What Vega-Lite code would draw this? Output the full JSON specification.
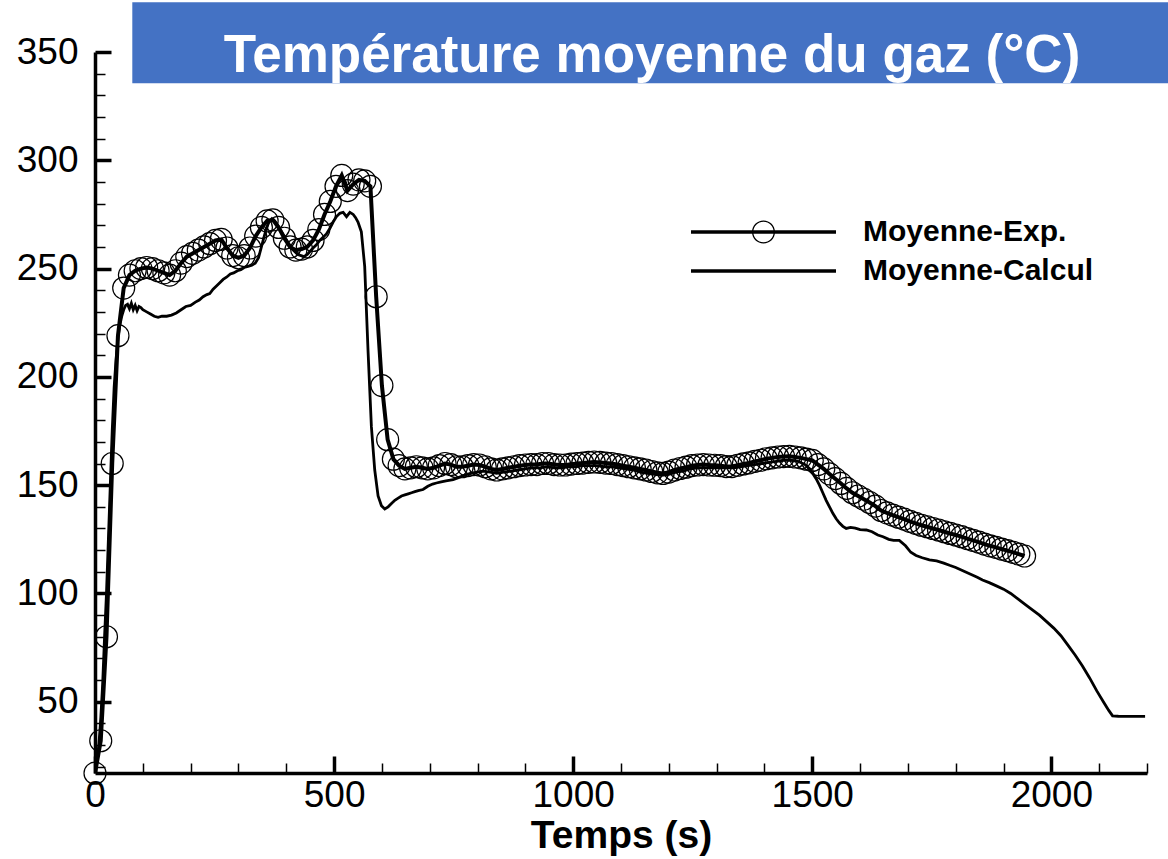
{
  "$schema": "https://vega.github.io/schema/vega-lite/v6.json",
  "width": 1052,
  "height": 721,
  "autosize": {"type": "none"},
  "padding": {"left": 95, "top": 52, "right": 21, "bottom": 86},
  "background": "white",
  "config": {"view": {"stroke": null}, "font": "Liberation Sans"},
  "title": {
    "text": "Température moyenne du gaz (°C)",
    "color": "white",
    "fontSize": 53,
    "fontWeight": "bold",
    "font": "Liberation Sans",
    "anchor": "middle",
    "frame": "group",
    "baseline": "alphabetic",
    "dx": 31,
    "offset": -123,
    "zindex": 2
  },
  "datasets": {
    "exp": [
      {"t":0,"v":17},{"t":12,"v":32},{"t":24,"v":80},{"t":36,"v":160},{"t":48,"v":219},{"t":60,"v":241},{"t":72,"v":247},{"t":84,"v":249},{"t":96,"v":250},{"t":108,"v":250.5},{"t":120,"v":250},{"t":132,"v":249},{"t":144,"v":248},{"t":156,"v":247},{"t":168,"v":249},{"t":180,"v":252.5},{"t":192,"v":255.5},{"t":204,"v":257},{"t":216,"v":258.5},{"t":228,"v":260},{"t":240,"v":261.5},{"t":252,"v":263},{"t":264,"v":263.5},{"t":276,"v":259.5},{"t":288,"v":256},{"t":300,"v":255},{"t":312,"v":256},{"t":324,"v":259.5},{"t":336,"v":265},{"t":348,"v":269},{"t":360,"v":272},{"t":372,"v":272.5},{"t":384,"v":269},{"t":396,"v":264},{"t":408,"v":260},{"t":420,"v":258.5},{"t":432,"v":259},{"t":444,"v":260},{"t":456,"v":263},{"t":468,"v":268},{"t":480,"v":275},{"t":492,"v":281},{"t":504,"v":288},{"t":516,"v":293},{"t":528,"v":286},{"t":540,"v":289},{"t":552,"v":291},{"t":564,"v":290.5},{"t":576,"v":288},{"t":588,"v":237},{"t":600,"v":196},{"t":612,"v":171},{"t":624,"v":162},{"t":636,"v":159},{"t":648,"v":157.5},{"t":660,"v":158},{"t":672,"v":158.5},{"t":684,"v":158},{"t":696,"v":157.5},{"t":708,"v":158},{"t":720,"v":159},{"t":732,"v":160},{"t":744,"v":159.5},{"t":756,"v":158.5},{"t":768,"v":158.5},{"t":780,"v":159},{"t":792,"v":159.5},{"t":804,"v":159.3},{"t":816,"v":158.5},{"t":828,"v":157.5},{"t":840,"v":157},{"t":852,"v":157.5},{"t":864,"v":158},{"t":876,"v":158.5},{"t":888,"v":159},{"t":900,"v":159.3},{"t":912,"v":159.5},{"t":924,"v":159.5},{"t":936,"v":160},{"t":948,"v":160},{"t":960,"v":159.5},{"t":972,"v":159.3},{"t":984,"v":159.3},{"t":996,"v":159.7},{"t":1008,"v":160},{"t":1020,"v":160.2},{"t":1032,"v":160.5},{"t":1044,"v":160.7},{"t":1056,"v":160.5},{"t":1068,"v":160.2},{"t":1080,"v":160},{"t":1092,"v":159.5},{"t":1104,"v":159},{"t":1116,"v":158.5},{"t":1128,"v":158},{"t":1140,"v":157.5},{"t":1152,"v":157},{"t":1164,"v":156.3},{"t":1176,"v":155.7},{"t":1188,"v":155.4},{"t":1200,"v":156},{"t":1212,"v":157},{"t":1224,"v":157.7},{"t":1236,"v":158.3},{"t":1248,"v":159},{"t":1260,"v":159.3},{"t":1272,"v":159.5},{"t":1284,"v":159.3},{"t":1296,"v":159.2},{"t":1308,"v":159},{"t":1320,"v":158.6},{"t":1332,"v":158.6},{"t":1344,"v":159.2},{"t":1356,"v":159.8},{"t":1368,"v":160.3},{"t":1380,"v":161},{"t":1392,"v":161.5},{"t":1404,"v":162.2},{"t":1416,"v":162.6},{"t":1428,"v":163},{"t":1440,"v":163.2},{"t":1452,"v":163.3},{"t":1464,"v":163},{"t":1476,"v":162.6},{"t":1488,"v":162},{"t":1500,"v":161.4},{"t":1512,"v":159.5},{"t":1524,"v":157.5},{"t":1536,"v":155.2},{"t":1548,"v":153},{"t":1560,"v":150.8},{"t":1572,"v":148.5},{"t":1584,"v":146.5},{"t":1596,"v":145},{"t":1608,"v":143.5},{"t":1620,"v":142},{"t":1632,"v":140.3},{"t":1644,"v":138.3},{"t":1656,"v":137.2},{"t":1668,"v":136.2},{"t":1680,"v":135.2},{"t":1692,"v":134.3},{"t":1704,"v":133.3},{"t":1716,"v":132.4},{"t":1728,"v":131.5},{"t":1740,"v":130.8},{"t":1752,"v":130},{"t":1764,"v":129.3},{"t":1776,"v":128.5},{"t":1788,"v":127.7},{"t":1800,"v":127},{"t":1812,"v":126.2},{"t":1824,"v":125.3},{"t":1836,"v":124.5},{"t":1848,"v":123.7},{"t":1860,"v":122.8},{"t":1872,"v":122},{"t":1884,"v":121.3},{"t":1896,"v":120.5},{"t":1908,"v":119.8},{"t":1920,"v":119},{"t":1932,"v":118.2},{"t":1944,"v":117.3}
    ],
    "calc": [
      {"t":0,"v":17},{"t":4,"v":22},{"t":8,"v":30},{"t":12,"v":42},{"t":16,"v":58},{"t":20,"v":80},{"t":24,"v":100},{"t":28,"v":125},{"t":32,"v":150},{"t":36,"v":175},{"t":40,"v":195},{"t":44,"v":208},{"t":48,"v":218},{"t":52,"v":224},{"t":56,"v":228},{"t":60,"v":231},{"t":64,"v":233},{"t":68,"v":233.5},{"t":72,"v":231.5},{"t":76,"v":234},{"t":80,"v":231},{"t":84,"v":233},{"t":88,"v":230.5},{"t":92,"v":232.5},{"t":96,"v":232},{"t":100,"v":231},{"t":108,"v":230},{"t":116,"v":229},{"t":124,"v":228},{"t":132,"v":227.5},{"t":140,"v":228},{"t":150,"v":228},{"t":160,"v":228.5},{"t":170,"v":229.5},{"t":180,"v":231},{"t":190,"v":232.5},{"t":200,"v":233},{"t":210,"v":234.5},{"t":218,"v":235.5},{"t":226,"v":237},{"t":234,"v":238},{"t":240,"v":238.5},{"t":247,"v":240.5},{"t":254,"v":242},{"t":261,"v":243.5},{"t":268,"v":245},{"t":275,"v":246},{"t":283,"v":247.5},{"t":290,"v":248},{"t":298,"v":249},{"t":305,"v":249.5},{"t":312,"v":250.5},{"t":320,"v":251},{"t":328,"v":251.5},{"t":335,"v":252.5},{"t":342,"v":255},{"t":348,"v":260},{"t":354,"v":265},{"t":359,"v":269},{"t":364,"v":271.5},{"t":370,"v":273},{"t":376,"v":272},{"t":383,"v":269.5},{"t":390,"v":267},{"t":397,"v":264.5},{"t":404,"v":262},{"t":410,"v":259.5},{"t":417,"v":258},{"t":424,"v":256.5},{"t":431,"v":256},{"t":437,"v":255.5},{"t":444,"v":256.5},{"t":450,"v":258},{"t":456,"v":259.5},{"t":463,"v":261},{"t":470,"v":263},{"t":477,"v":264.5},{"t":484,"v":266},{"t":491,"v":268.5},{"t":498,"v":271.5},{"t":505,"v":274},{"t":512,"v":275.5},{"t":519,"v":276},{"t":526,"v":274},{"t":533,"v":276},{"t":540,"v":275},{"t":545,"v":273.5},{"t":550,"v":271.5},{"t":557,"v":267},{"t":564,"v":251},{"t":571,"v":212},{"t":578,"v":177},{"t":585,"v":157},{"t":592,"v":145},{"t":599,"v":140.5},{"t":606,"v":139},{"t":613,"v":140},{"t":620,"v":141.5},{"t":627,"v":143},{"t":634,"v":144},{"t":641,"v":145},{"t":648,"v":145.5},{"t":655,"v":146},{"t":662,"v":146.5},{"t":669,"v":147},{"t":676,"v":147.5},{"t":686,"v":148},{"t":696,"v":149.5},{"t":706,"v":150.5},{"t":714,"v":151},{"t":724,"v":151.5},{"t":734,"v":152},{"t":749,"v":152.5},{"t":760,"v":153.5},{"t":772,"v":154.5},{"t":785,"v":155.5},{"t":798,"v":156},{"t":812,"v":156.5},{"t":826,"v":156},{"t":840,"v":155.5},{"t":855,"v":156},{"t":870,"v":156.5},{"t":885,"v":157},{"t":900,"v":157.5},{"t":915,"v":158},{"t":930,"v":158},{"t":945,"v":158.5},{"t":960,"v":158},{"t":975,"v":158},{"t":990,"v":158.5},{"t":1005,"v":158.5},{"t":1020,"v":159},{"t":1035,"v":159},{"t":1050,"v":159},{"t":1065,"v":158.5},{"t":1080,"v":158.5},{"t":1095,"v":158},{"t":1110,"v":157.5},{"t":1125,"v":157},{"t":1140,"v":156},{"t":1155,"v":155.5},{"t":1170,"v":155},{"t":1185,"v":154.5},{"t":1200,"v":155},{"t":1215,"v":156},{"t":1230,"v":156.5},{"t":1245,"v":157.5},{"t":1260,"v":158},{"t":1275,"v":158},{"t":1290,"v":158},{"t":1305,"v":158},{"t":1320,"v":158},{"t":1335,"v":158},{"t":1350,"v":158.5},{"t":1365,"v":159},{"t":1380,"v":159.5},{"t":1395,"v":160},{"t":1410,"v":160.5},{"t":1425,"v":161},{"t":1440,"v":161.5},{"t":1455,"v":161.5},{"t":1470,"v":161},{"t":1485,"v":159.5},{"t":1495,"v":157.5},{"t":1501,"v":155.4},{"t":1508,"v":153},{"t":1515,"v":150},{"t":1522,"v":146.5},{"t":1529,"v":143},{"t":1536,"v":140},{"t":1543,"v":137},{"t":1550,"v":134.5},{"t":1557,"v":132.5},{"t":1564,"v":131},{"t":1571,"v":130},{"t":1580,"v":130.5},{"t":1590,"v":130.2},{"t":1600,"v":129.5},{"t":1613,"v":129.3},{"t":1625,"v":128.5},{"t":1637,"v":127},{"t":1648,"v":126.2},{"t":1660,"v":125},{"t":1670,"v":124.5},{"t":1682,"v":124.5},{"t":1695,"v":122},{"t":1706,"v":119},{"t":1717,"v":117.5},{"t":1730,"v":116.5},{"t":1745,"v":115.5},{"t":1760,"v":115},{"t":1775,"v":114},{"t":1787,"v":113},{"t":1800,"v":112},{"t":1815,"v":110.5},{"t":1830,"v":109},{"t":1845,"v":107.5},{"t":1856,"v":106.2},{"t":1870,"v":105},{"t":1885,"v":103.5},{"t":1900,"v":102},{"t":1915,"v":100},{"t":1930,"v":97.5},{"t":1945,"v":95},{"t":1961,"v":92.3},{"t":1975,"v":90},{"t":1990,"v":87},{"t":2005,"v":84},{"t":2020,"v":80.5},{"t":2035,"v":76},{"t":2050,"v":71.5},{"t":2065,"v":66.5},{"t":2080,"v":61},{"t":2095,"v":55},{"t":2110,"v":49.5},{"t":2120,"v":46},{"t":2128,"v":43.5},{"t":2140,"v":43.3},{"t":2160,"v":43.2},{"t":2180,"v":43.2},{"t":2196,"v":43.2}
    ]
  },
  "resolve": {"axis": {"x": "independent", "y": "independent"}},
  "layer": [
    {
      "data": {"values": [{}]},
      "mark": {"type": "rect", "color": "#4472C4", "clip": false},
      "encoding": {
        "x": {"datum": 78, "type": "quantitative", "scale": {"domain": [0, 2200], "nice": false, "zero": false}, "axis": null},
        "x2": {"datum": 2250},
        "y": {"datum": 335.6, "type": "quantitative", "scale": {"domain": [17.1, 350], "nice": false, "zero": false}, "axis": null},
        "y2": {"datum": 373}
      }
    },
    {
      "data": {"name": "calc"},
      "mark": {"type": "line", "strokeWidth": 2.8, "clip": true},
      "encoding": {
        "x": {"field": "t", "type": "quantitative", "axis": {
          "orient": "bottom", "values": [0, 500, 1000, 1500, 2000], "format": "d", "tickSize": -17, "tickWidth": 3.5, "tickColor": "black",
          "domainColor": "black", "domainWidth": 3.5, "labelFontSize": 37, "labelColor": "black", "labelPadding": 21,
          "labelFlush": false, "labelOverlap": false, "grid": false,
          "title": "Temps (s)", "titleFontSize": 39, "titleFontWeight": "bold", "titleColor": "black", "titlePadding": 3
        }},
        "y": {"field": "v", "type": "quantitative", "axis": {
          "orient": "left", "values": [50, 100, 150, 200, 250, 300, 350], "format": "d", "tickSize": -16, "tickWidth": 3.5, "tickColor": "black",
          "domainColor": "black", "domainWidth": 3.5, "labelFontSize": 37, "labelColor": "black", "labelPadding": 33,
          "labelFlush": false, "labelOverlap": false, "grid": false, "title": null
        }},
        "color": {"datum": "Moyenne-Calcul", "type": "nominal",
          "scale": {"domain": ["Moyenne-Exp.", "Moyenne-Calcul"], "range": ["black", "black"]},
          "legend": {
            "title": null, "orient": "none", "legendX": 716, "legendY": 165, "padding": 0,
            "symbolSize": 400, "symbolType": "M-13.5,-0.18H1V0.18H-13.5Z",
            "labelFontSize": 30, "labelFontWeight": "bold", "labelColor": "black", "labelOffset": 22, "labelLimit": 500, "rowPadding": 9,
            "encode": {"symbols": {"update": {
              "shape": {"signal": "datum.value === 'Moyenne-Exp.' ? 'M-13.5,-0.18H1V0.18H-13.5Z M-5.1,0A1.15,1.15 0 1,1 -7.4,0A1.15,1.15 0 1,1 -5.1,0Z M-5.23,0A1.02,1.02 0 1,0 -7.27,0A1.02,1.02 0 1,0 -5.23,0Z' : 'M-13.5,-0.18H1V0.18H-13.5Z'"},
              "fill": {"value": "black"}, "stroke": {"value": "transparent"}, "strokeWidth": {"value": 0}, "opacity": {"value": 1}
            }}}
          }
        }
      }
    },
    {
      "data": {"name": "exp"},
      "mark": {"type": "line", "strokeWidth": 4, "clip": true},
      "encoding": {
        "x": {"field": "t", "type": "quantitative", "axis": {
          "orient": "bottom", "values": [100,200,300,400,600,700,800,900,1100,1200,1300,1400,1600,1700,1800,1900,2100,2200],
          "tickSize": -10, "tickWidth": 1.5, "tickColor": "black", "domain": false, "labels": false, "grid": false, "title": null
        }},
        "y": {"field": "v", "type": "quantitative", "axis": {
          "orient": "left", "values": [20,30,40,60,70,80,90,110,120,130,140,160,170,180,190,210,220,230,240,260,270,280,290,310,320,330,340],
          "tickSize": -10, "tickWidth": 1.5, "tickColor": "black", "domain": false, "labels": false, "grid": false, "title": null
        }},
        "color": {"datum": "Moyenne-Exp.", "type": "nominal"}
      }
    },
    {
      "data": {"name": "exp"},
      "mark": {"type": "point", "shape": "circle", "size": 484, "filled": false, "stroke": "black", "strokeWidth": 1.2, "opacity": 1, "clip": false},
      "encoding": {
        "x": {"field": "t", "type": "quantitative", "axis": null},
        "y": {"field": "v", "type": "quantitative", "axis": null}
      }
    }
  ]
}
